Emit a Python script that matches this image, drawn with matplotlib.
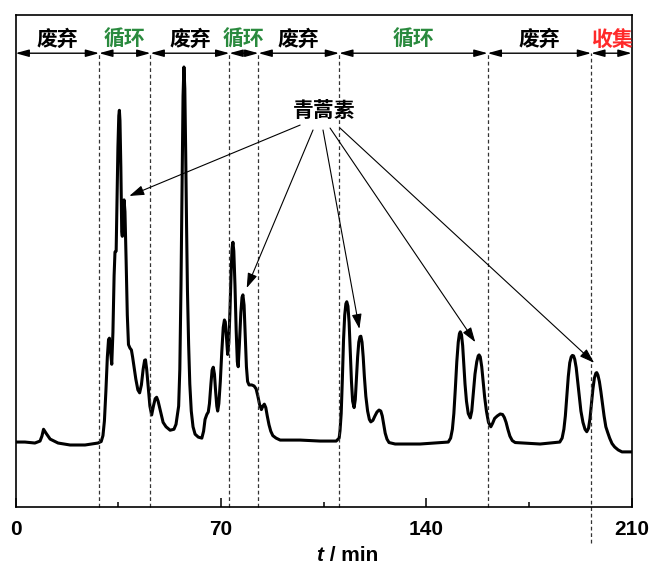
import matplotlib
matplotlib.use("Agg")
import matplotlib.pyplot as plt
from matplotlib.ticker import MultipleLocator

plt.rcParams['font.family'] = ['Liberation Sans', 'Noto Sans CJK SC', 'DejaVu Sans']
CJK = ['Noto Sans CJK SC', 'DejaVu Sans']

# chromatogram trace (t in min, signal in arbitrary units)
t = [0.0, 3.2, 6.6, 8.35, 9.0, 9.55, 10.4, 11.8, 14.5, 18.6, 23.7,
     28.1, 29.2, 29.8, 30.3, 30.8, 31.3, 31.7, 32.0, 32.4, 32.8, 33.2, 33.6,
     33.9, 34.3, 34.6, 34.9, 35.2, 35.4, 35.6, 35.9, 36.2, 36.4, 36.7, 37.0,
     37.3, 37.7, 38.1, 38.5, 39.0, 39.5, 39.9, 40.4, 41.0, 41.7, 42.3, 42.9,
     43.5, 44.0, 44.3, 44.7, 45.2, 45.8, 46.4, 47.0, 47.6, 48.1, 48.6, 49.3,
     50.3, 51.3, 52.7, 54.0, 54.7, 55.2, 55.6, 56.0, 56.4, 56.8, 57.1, 57.4,
     57.7, 58.0, 58.3, 58.6, 59.0, 59.4, 59.9, 60.5, 61.2, 62.3,
     63.5, 64.1, 64.6, 65.2, 65.7, 66.1, 66.6, 67.0, 67.4, 67.8, 68.2, 68.6,
     68.9, 69.3, 69.8, 70.3, 70.8, 71.2, 71.5, 71.9, 72.3, 72.7, 73.1, 73.5,
     73.8, 74.1, 74.4, 74.8, 75.2, 75.6, 75.9, 76.3, 76.8, 77.2, 77.5, 77.9,
     78.3, 78.7, 79.1, 79.6, 80.5, 81.3, 82.0, 82.6, 83.2, 83.8, 84.3, 84.8,
     85.3, 85.8, 86.4, 87.0, 87.7, 88.8, 90.2, 97.0, 103.8, 109.3,
     110.3, 110.6, 111.0, 111.4, 111.8, 112.2, 112.6, 112.9, 113.3, 113.7,
     114.1, 114.5, 114.9, 115.4, 115.8, 116.2, 116.6, 117.0, 117.4, 117.7,
     118.1, 118.5, 118.9, 119.4, 120.0, 120.6, 121.1, 121.8, 122.5, 123.2,
     123.9, 124.5, 125.0, 125.5, 126.0, 126.6, 127.3, 129.4, 137.9,
     147.5, 148.3, 148.9, 149.4, 149.9, 150.4, 150.9, 151.3, 151.6, 152.0,
     152.4, 152.8, 153.2, 153.7, 154.3, 155.0, 155.5, 156.0, 156.6, 157.2,
     157.7, 158.0, 158.4, 158.9, 159.4, 159.9, 160.5, 161.2, 162.0, 162.6,
     163.3, 164.2, 165.2, 166.0, 166.6, 167.2, 167.8, 168.5, 169.3, 170.3,
     178.8, 185.5, 186.3, 186.9, 187.4, 187.9, 188.4, 188.9, 189.4, 189.8,
     190.2, 190.6, 191.1, 191.6, 192.1, 192.7, 193.4, 194.1, 194.7, 195.3,
     195.8, 196.3, 196.8, 197.3, 197.8, 198.1, 198.5, 199.0, 199.5, 200.0,
     200.6, 201.2, 201.8, 202.5, 203.3, 204.2, 205.4, 206.7, 209.9]
signal = [13.2, 13.2, 13.0, 13.4, 14.4, 15.8, 15.0, 13.8, 13.0, 12.6, 12.6,
          13.0, 13.3, 14.5, 17.5, 23.5, 30.5, 34.0, 34.3, 31.5, 29.0, 35.5, 47.0,
          51.8, 52.0, 62.0, 73.0, 79.5, 80.6, 78.5, 69.0, 56.0, 55.0, 60.0, 62.4,
          60.0, 50.0, 39.0, 33.0, 32.3, 31.9, 30.5, 28.5, 26.0, 23.8, 23.2, 24.8,
          28.0, 29.8, 29.9, 28.0, 24.5, 20.5, 18.7, 20.5, 22.0, 22.3, 21.5, 19.7,
          17.2, 16.3, 15.6, 15.8, 16.8, 18.8, 20.5, 28.0, 45.0, 68.0, 83.5, 89.4,
          85.0, 72.0, 57.0, 44.0, 33.0, 25.0, 19.5, 16.3, 14.8, 14.2,
          14.0, 15.4, 17.8, 18.8, 19.3, 21.0, 25.0, 27.8, 28.4, 27.0, 23.5, 20.5,
          19.5, 21.0, 25.5, 31.5, 36.5, 38.0, 37.6, 34.5, 31.0, 33.5, 40.0, 48.0,
          52.5, 53.8, 52.0, 45.0, 36.0, 29.5, 28.5, 33.0, 39.5, 42.6, 43.1, 41.0,
          35.0, 28.5, 25.5, 24.8, 24.8, 24.6, 24.0, 22.5, 20.8, 19.8, 20.5, 20.9,
          20.2, 18.5, 16.7, 15.4, 14.5, 14.0, 13.6, 13.6, 13.4, 13.4,
          14.0, 15.5, 19.0, 26.0, 34.0, 39.0, 41.3, 41.7, 40.8, 37.5,
          31.5, 25.5, 21.5, 20.2, 21.8, 26.0, 30.5, 33.5, 34.6, 34.7,
          33.5, 30.5, 26.5, 22.5, 19.5, 17.8, 17.3, 17.6, 18.5, 19.3,
          19.7, 19.5, 18.5, 16.8, 15.0, 13.8, 13.1, 12.8, 12.8,
          13.2, 14.0, 15.8, 19.0, 24.0, 29.5, 33.5, 35.2, 35.6, 35.0,
          32.8, 29.0, 25.0, 21.5, 19.0, 18.1, 19.5, 23.0, 27.0, 29.5,
          30.7, 30.9, 30.5, 28.5, 25.5, 22.3, 19.5, 17.2, 16.3, 17.0,
          18.0, 18.5, 18.9, 18.8, 18.2, 17.2, 15.8, 14.4, 13.5, 13.1,
          12.8, 13.2, 14.0, 15.8, 18.5, 22.5, 26.5, 29.3, 30.5, 30.8,
          30.7, 30.0, 28.3, 25.5, 22.5, 19.5, 17.2, 15.8, 15.3, 16.0,
          18.0, 21.0, 24.0, 26.2, 27.2, 27.3, 26.8, 25.5, 23.5, 21.2,
          18.5, 16.3, 15.2, 14.0, 12.9, 12.2, 11.6, 11.2, 11.2]

# switching times of the valve (min) and the stage names between them
bounds = [0, 28.5, 46.0, 72.9, 82.8, 110.3, 160.9, 196.2, 210]
stages = ['废弃', '循环', '废弃', '循环', '废弃', '循环', '废弃', '收集']
stage_colors = ['black', '#2a8a3e', 'black', '#2a8a3e', 'black', '#2a8a3e', 'black', '#ff2a2a']

# artemisinin peaks pointed at (tip t, tip y) and where the arrows leave the label
art_tips = [(38.8, 63.2), (78.8, 44.5), (117.2, 36.2), (156.7, 33.5), (197.2, 29.3)]
art_starts = [(97.0, 77.6), (101.4, 76.6), (104.8, 76.6), (107.2, 77.0), (110.6, 77.0)]

fig = plt.figure(figsize=(6.52, 5.70), dpi=100)
ax = fig.add_axes([0.0238, 0.1105, 0.945, 0.8635])

ax.plot(t, signal, color='black', lw=2.2, solid_joinstyle='round')

ax.set_xlim(0, 210)
ax.set_ylim(0, 100)
ax.set_yticks([])
ax.xaxis.set_major_locator(MultipleLocator(70))
ax.xaxis.set_minor_locator(MultipleLocator(35))
ax.tick_params(axis='x', which='major', direction='in', length=6.5, width=1.1, pad=9,
               labelsize=15)
ax.tick_params(axis='x', which='minor', direction='in', length=3.5, width=1.1)
for lab in ax.get_xticklabels():
    lab.set_fontweight('bold')
for s in ax.spines.values():
    s.set_linewidth(1.2)

# axis title: italic t, upright unit
ax.text(0.5, -0.099, 't', transform=ax.transAxes, ha='right', va='center',
        fontsize=15, fontweight='bold', style='italic')
ax.text(0.5, -0.099, ' / min', transform=ax.transAxes, ha='left', va='center',
        fontsize=15, fontweight='bold')

# dashed switching lines (the last one runs below the axis)
row_y = 92.2
for i, b in enumerate(bounds[1:-1]):
    low = -7.3 if i == len(bounds) - 3 else 0
    ax.plot([b, b], [low, row_y], color='#333333', lw=0.9, ls=(0, (3, 2.2)),
            clip_on=False)

# stage arrows and names
for i in range(len(stages)):
    a, b = bounds[i], bounds[i + 1]
    ax.annotate('', xy=(b, row_y), xytext=(a, row_y),
                arrowprops=dict(arrowstyle='<|-|>,head_length=0.8,head_width=0.22',
                                color='black', lw=1.0, mutation_scale=10,
                                shrinkA=0, shrinkB=0))
    ax.text((a + b) / 2, 95.1, stages[i], ha='center', va='center', fontsize=15,
            fontweight='bold', color=stage_colors[i], family=CJK)

# artemisinin label
ax.text(105.2, 80.6, '青蒿素', ha='center', va='center', fontsize=15,
        fontweight='bold', family=CJK)
for (x0, y0), (x1, y1) in zip(art_starts, art_tips):
    ax.annotate('', xy=(x1, y1), xytext=(x0, y0),
                arrowprops=dict(arrowstyle='-|>,head_length=0.6,head_width=0.2',
                                color='black', lw=0.8, mutation_scale=15,
                                shrinkA=0, shrinkB=0))

fig.savefig('out.png', dpi=100)
